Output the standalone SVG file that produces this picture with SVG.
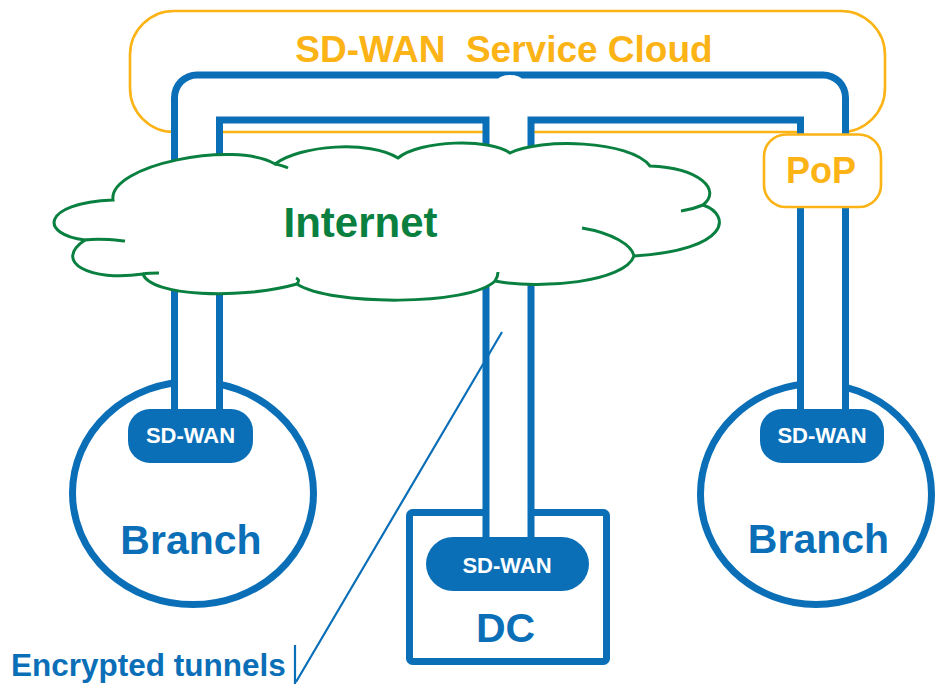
<svg xmlns="http://www.w3.org/2000/svg" width="935" height="684" viewBox="0 0 935 684">
<style>
.blue{fill:none;stroke:#0B6FB8;stroke-width:7}
.pipeo{fill:none;stroke:#0B6FB8;stroke-width:52;stroke-linejoin:round}
.pipei{fill:none;stroke:#fff;stroke-width:38;stroke-linejoin:round}
.orange{fill:none;stroke:#FBB316;stroke-width:2.6}
.box{fill:#0B6FB8}
.boxt{font-family:"Liberation Sans",Arial,sans-serif;font-weight:bold;font-size:22px;fill:#fff;text-anchor:middle}
.big{font-family:"Liberation Sans",Arial,sans-serif;font-weight:bold;font-size:41px;fill:#0B6FB8;text-anchor:middle}
</style>
<rect width="935" height="684" fill="#fff"/>
<g id="service-cloud">
<rect class="orange" x="130" y="11" width="755" height="121" rx="44"/>
<text x="504" y="62" font-family="'Liberation Sans',Arial,sans-serif" font-weight="bold" font-size="37" fill="#FBB316" text-anchor="middle" xml:space="preserve">SD-WAN  Service Cloud</text>
</g>
<g id="branch-left">
<ellipse class="blue" cx="193" cy="493" rx="120.5" ry="111.5" fill="#fff"/>
<text class="big" x="191" y="554">Branch</text>
</g>
<g id="branch-right">
<ellipse class="blue" cx="816" cy="494" rx="115.5" ry="110.5" fill="#fff"/>
<text class="big" x="818.5" y="553">Branch</text>
</g>
<g id="dc">
<rect class="blue" x="409.5" y="512.5" width="197" height="149" rx="3" fill="#fff"/>
<text class="big" x="505.5" y="642">DC</text>
</g>
<g id="connectors">
<path class="pipeo" d="M197,412 V97.5 H823 V412"/>
<path class="pipeo" d="M508.5,97.5 V540" stroke-width="50"/>
<path class="pipei" d="M197,412 V97.5 H823 V412"/>
<path class="pipei" d="M508.5,97.5 V540" stroke-width="36"/>
<ellipse cx="510" cy="80" rx="12" ry="5" fill="#fff"/>
<path d="M502,332 L296,682 M295,645 V684" fill="none" stroke="#0B6FB8" stroke-width="2.2"/>
</g>
<g id="internet">
<path d="M113,200 C108,165 235,140 275,164 C300,145 370,140 398,158 C420,140 490,138 510,153 C540,138 630,140 650,166 C700,168 722,190 703,205 C732,215 730,250 634,256 C625,282 540,290 495,281 C470,306 330,306 297,284 C240,300 150,296 143,274 C90,282 52,262 85,240 C40,235 40,203 113,200 Z" fill="#fff" stroke="#0A8040" stroke-width="3"/>
<path d="M85,240 C100,238 115,240 125,241 M582,228 C612,233 632,245 634,256 M703,205 C696,208 688,210 681,211 M495,281 C497,278 498,275 498,272 M143,274 C148,273 153,273 159,273 M275,164 C280,165 284,166 288,168 M297,284 C300,280 298,279 296,278" fill="none" stroke="#0A8040" stroke-width="3"/>
<text x="360.5" y="237" font-family="'Liberation Sans',Arial,sans-serif" font-weight="bold" font-size="42" fill="#0A8040" text-anchor="middle">Internet</text>
</g>
<g id="pop">
<rect x="764" y="134.5" width="117" height="72.5" rx="22" fill="#fff" stroke="#FBB316" stroke-width="2.6"/>
<text x="821" y="183" font-family="'Liberation Sans',Arial,sans-serif" font-weight="bold" font-size="36" fill="#FBB316" text-anchor="middle">PoP</text>
</g>
<g id="sdwan-left">
<rect class="box" x="128" y="409" width="125" height="54" rx="22"/>
<text class="boxt" x="190.5" y="443">SD-WAN</text>
</g>
<g id="sdwan-dc">
<rect class="box" x="426" y="537" width="163" height="54" rx="27"/>
<text class="boxt" x="507" y="573">SD-WAN</text>
</g>
<g id="sdwan-right">
<rect class="box" x="760" y="409" width="124" height="54" rx="22"/>
<text class="boxt" x="822" y="443">SD-WAN</text>
</g>
<g id="label">
<text x="11" y="676" font-family="'Liberation Sans',Arial,sans-serif" font-weight="bold" font-size="31.5" fill="#0B6FB8">Encrypted tunnels</text>
</g>
</svg>
